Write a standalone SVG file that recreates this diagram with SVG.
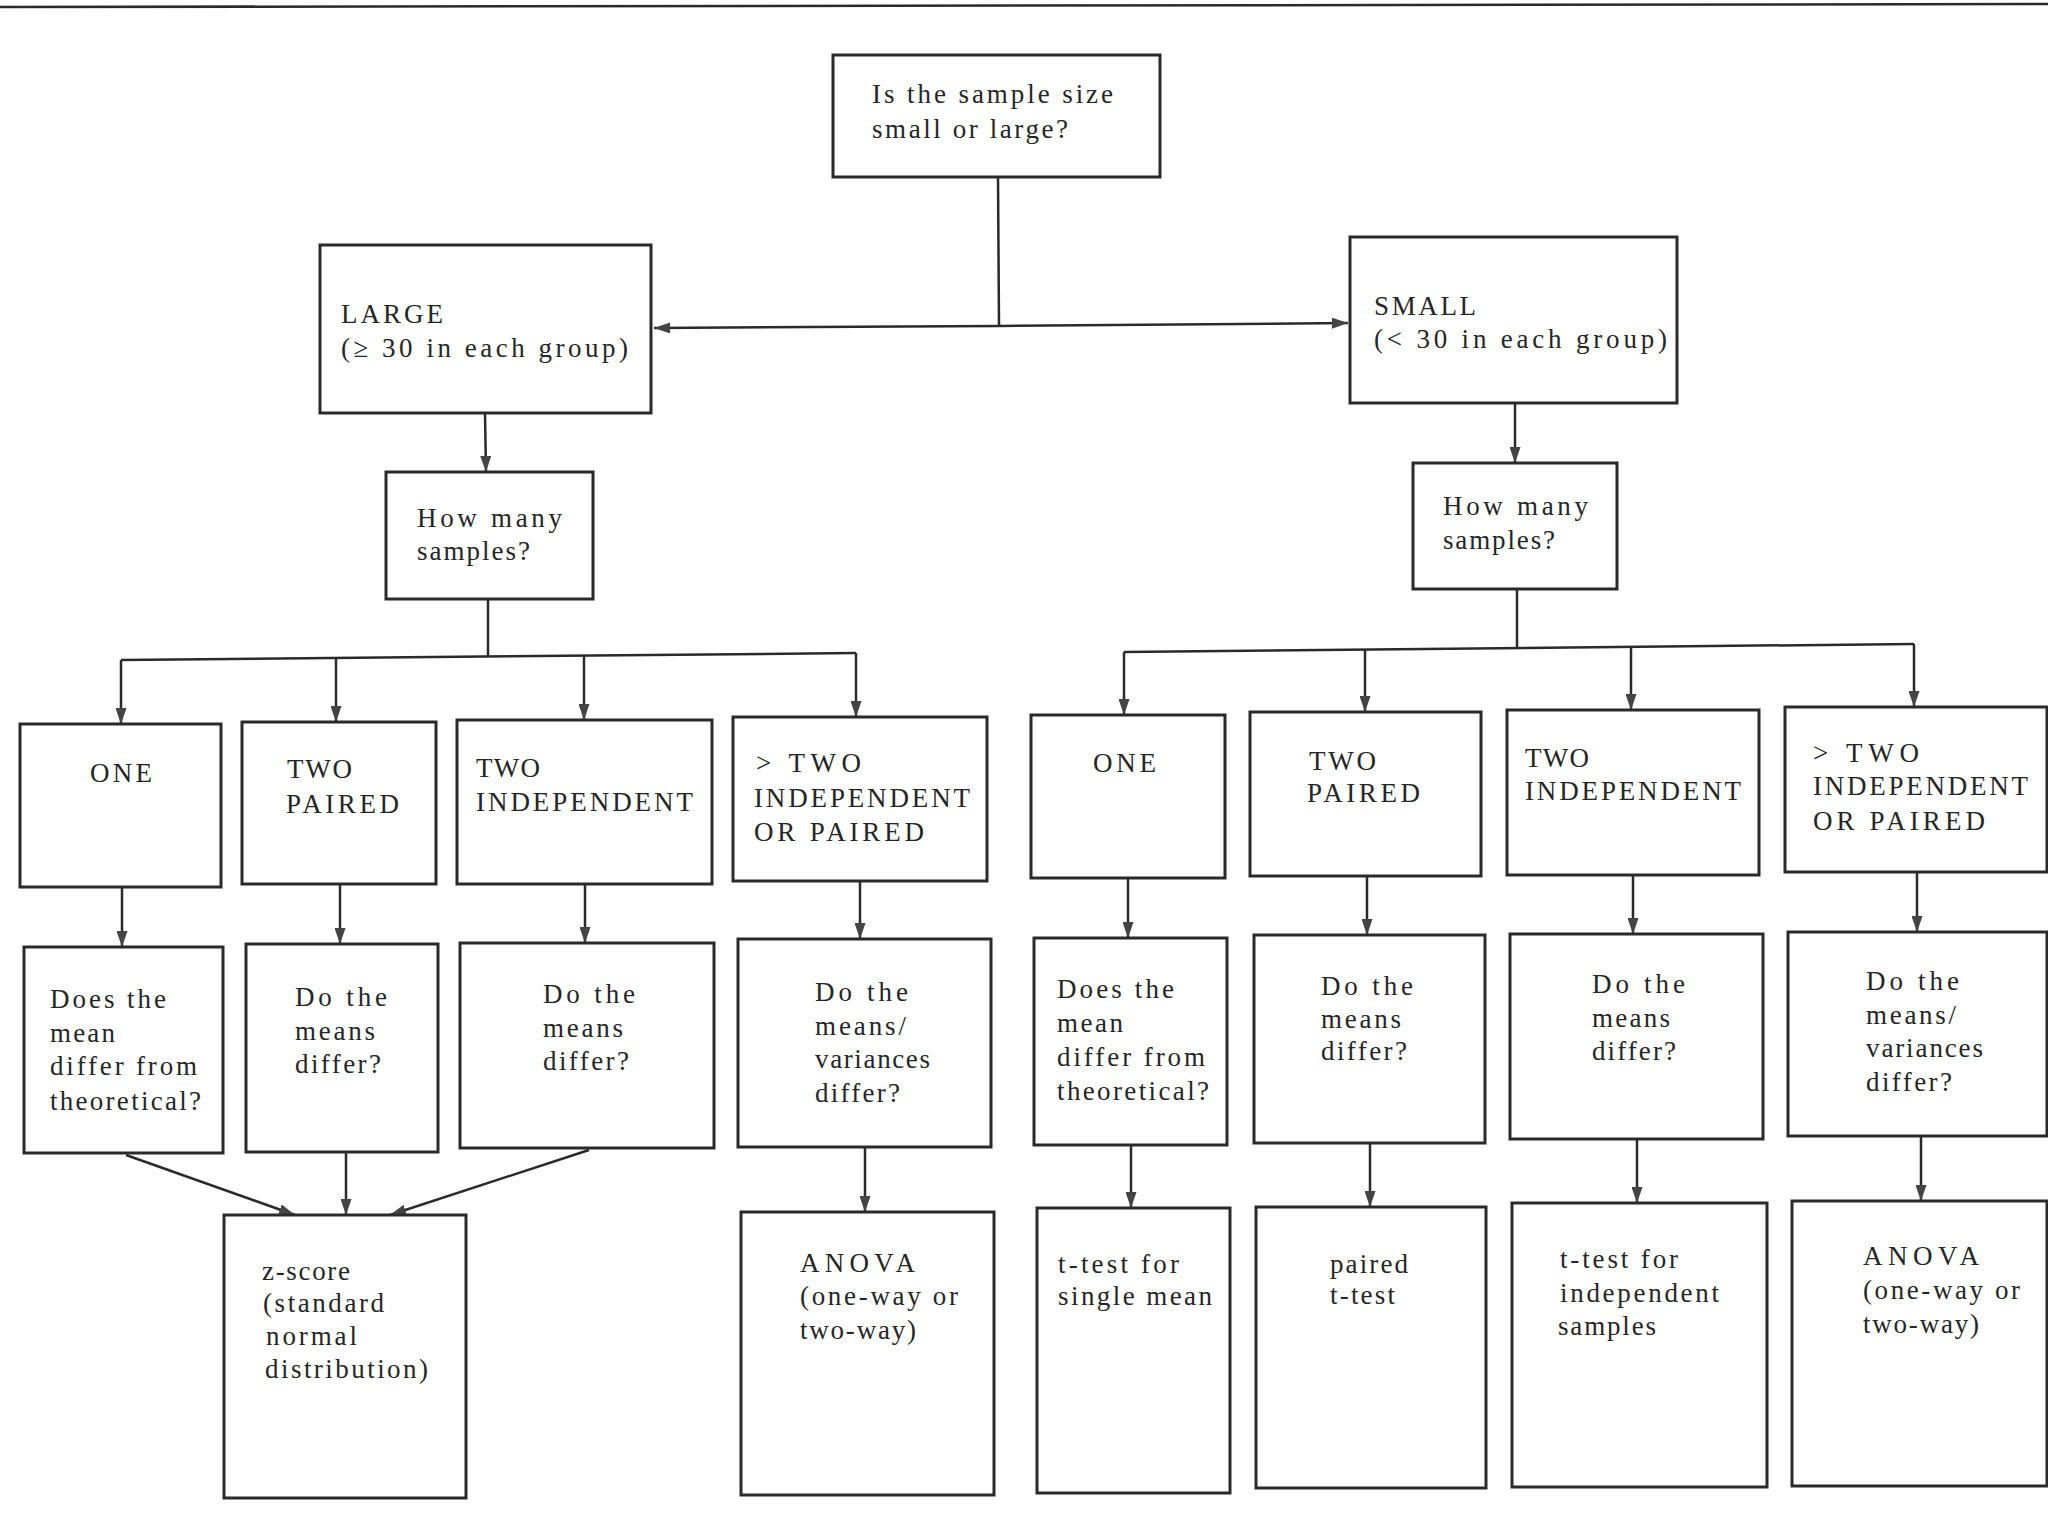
<svg xmlns="http://www.w3.org/2000/svg" width="2048" height="1536" viewBox="0 0 2048 1536">
<style>
.box{fill:#fff;stroke:#2a2a2a;stroke-width:3}
.ln{fill:none;stroke:#2a2a2a;stroke-width:2.5}
.t{font-family:'Liberation Serif','DejaVu Serif',serif;font-size:27px;fill:#262626}
</style>
<defs>
<marker id="ah" viewBox="0 0 16 11" refX="16" refY="5.5" markerWidth="16" markerHeight="11" markerUnits="userSpaceOnUse" orient="auto">
<path d="M0,0 L16,5.5 L0,11 z" fill="#444"/>
</marker>
</defs>
<rect width="2048" height="1536" fill="#fff"/>
<line x1="0" y1="7" x2="2048" y2="4" stroke="#2a2a2a" stroke-width="2.5"/>

<g id="connectors">
<line class="ln" x1="998" y1="177" x2="999" y2="326"/>
<line class="ln" x1="999" y1="326" x2="654" y2="328" marker-end="url(#ah)"/>
<line class="ln" x1="999" y1="326" x2="1348" y2="323" marker-end="url(#ah)"/>
<line class="ln" x1="485" y1="413" x2="486" y2="472" marker-end="url(#ah)"/>
<line class="ln" x1="1515" y1="403" x2="1515" y2="463" marker-end="url(#ah)"/>
<line class="ln" x1="488" y1="599" x2="488" y2="657"/>
<line class="ln" x1="121" y1="660" x2="856" y2="653"/>
<line class="ln" x1="121" y1="660" x2="121" y2="724" marker-end="url(#ah)"/>
<line class="ln" x1="336" y1="658" x2="336" y2="722" marker-end="url(#ah)"/>
<line class="ln" x1="584" y1="656" x2="584" y2="720" marker-end="url(#ah)"/>
<line class="ln" x1="856" y1="653" x2="856" y2="717" marker-end="url(#ah)"/>
<line class="ln" x1="1517" y1="589" x2="1517" y2="648"/>
<line class="ln" x1="1124" y1="652" x2="1914" y2="644"/>
<line class="ln" x1="1124" y1="652" x2="1124" y2="715" marker-end="url(#ah)"/>
<line class="ln" x1="1365" y1="650" x2="1365" y2="712" marker-end="url(#ah)"/>
<line class="ln" x1="1631" y1="647" x2="1631" y2="710" marker-end="url(#ah)"/>
<line class="ln" x1="1914" y1="644" x2="1914" y2="707" marker-end="url(#ah)"/>
<line class="ln" x1="122" y1="887" x2="122" y2="947" marker-end="url(#ah)"/>
<line class="ln" x1="340" y1="884" x2="340" y2="944" marker-end="url(#ah)"/>
<line class="ln" x1="585" y1="884" x2="585" y2="943" marker-end="url(#ah)"/>
<line class="ln" x1="860" y1="881" x2="860" y2="939" marker-end="url(#ah)"/>
<line class="ln" x1="1128" y1="878" x2="1128" y2="938" marker-end="url(#ah)"/>
<line class="ln" x1="1367" y1="876" x2="1367" y2="935" marker-end="url(#ah)"/>
<line class="ln" x1="1633" y1="875" x2="1633" y2="934" marker-end="url(#ah)"/>
<line class="ln" x1="1917" y1="872" x2="1917" y2="932" marker-end="url(#ah)"/>
<line class="ln" x1="126" y1="1155" x2="295" y2="1215" marker-end="url(#ah)"/>
<line class="ln" x1="346" y1="1153" x2="346" y2="1215" marker-end="url(#ah)"/>
<line class="ln" x1="589" y1="1150" x2="390" y2="1215" marker-end="url(#ah)"/>
<line class="ln" x1="865" y1="1147" x2="865" y2="1212" marker-end="url(#ah)"/>
<line class="ln" x1="1131" y1="1145" x2="1131" y2="1208" marker-end="url(#ah)"/>
<line class="ln" x1="1370" y1="1143" x2="1370" y2="1207" marker-end="url(#ah)"/>
<line class="ln" x1="1637" y1="1139" x2="1637" y2="1203" marker-end="url(#ah)"/>
<line class="ln" x1="1921" y1="1136" x2="1921" y2="1201" marker-end="url(#ah)"/>
</g>

<g id="n-top">
<rect class="box" x="833" y="55" width="327" height="122"/>
<text class="t" x="872" y="103" textLength="241">Is the sample size</text>
<text class="t" x="872" y="138" textLength="196">small or large?</text>
</g>
<g id="n-large">
<rect class="box" x="320" y="245" width="331" height="168"/>
<text class="t" x="341" y="323" textLength="102">LARGE</text>
<text class="t" x="341" y="357" textLength="287">(≥ 30 in each group)</text>
</g>
<g id="n-small">
<rect class="box" x="1350" y="237" width="327" height="166"/>
<text class="t" x="1374" y="315" textLength="102">SMALL</text>
<text class="t" x="1374" y="348" textLength="293">(&lt; 30 in each group)</text>
</g>
<g id="n-howmany-l">
<rect class="box" x="386" y="472" width="207" height="127"/>
<text class="t" x="417" y="527" textLength="145">How many</text>
<text class="t" x="417" y="560" textLength="113">samples?</text>
</g>
<g id="n-howmany-r">
<rect class="box" x="1413" y="463" width="204" height="126"/>
<text class="t" x="1443" y="515" textLength="145">How many</text>
<text class="t" x="1443" y="549" textLength="112">samples?</text>
</g>

<g id="n-l-one">
<rect class="box" x="20" y="724" width="201" height="163"/>
<text class="t" x="90" y="782" textLength="62">ONE</text>
</g>
<g id="n-l-twopaired">
<rect class="box" x="242" y="722" width="194" height="162"/>
<text class="t" x="287" y="778" textLength="65">TWO</text>
<text class="t" x="286" y="813" textLength="113">PAIRED</text>
</g>
<g id="n-l-twoindep">
<rect class="box" x="457" y="720" width="255" height="164"/>
<text class="t" x="476" y="777" textLength="64">TWO</text>
<text class="t" x="476" y="811" textLength="217">INDEPENDENT</text>
</g>
<g id="n-l-more">
<rect class="box" x="733" y="717" width="254" height="164"/>
<text class="t" x="756" y="772" textLength="105">&gt; TWO</text>
<text class="t" x="754" y="807" textLength="216">INDEPENDENT</text>
<text class="t" x="754" y="841" textLength="170">OR PAIRED</text>
</g>
<g id="n-r-one">
<rect class="box" x="1031" y="715" width="194" height="163"/>
<text class="t" x="1093" y="772" textLength="63">ONE</text>
</g>
<g id="n-r-twopaired">
<rect class="box" x="1250" y="712" width="231" height="164"/>
<text class="t" x="1309" y="770" textLength="67">TWO</text>
<text class="t" x="1307" y="802" textLength="113">PAIRED</text>
</g>
<g id="n-r-twoindep">
<rect class="box" x="1507" y="710" width="252" height="165"/>
<text class="t" x="1525" y="767" textLength="64">TWO</text>
<text class="t" x="1525" y="800" textLength="216">INDEPENDENT</text>
</g>
<g id="n-r-more">
<rect class="box" x="1785" y="707" width="262" height="165"/>
<text class="t" x="1813" y="762" textLength="106">&gt; TWO</text>
<text class="t" x="1813" y="795" textLength="215">INDEPENDENT</text>
<text class="t" x="1813" y="830" textLength="172">OR PAIRED</text>
</g>

<g id="n-l-q1">
<rect class="box" x="24" y="947" width="199" height="206"/>
<text class="t" x="50" y="1008" textLength="116">Does the</text>
<text class="t" x="50" y="1042" textLength="65">mean</text>
<text class="t" x="50" y="1075" textLength="147">differ from</text>
<text class="t" x="50" y="1110" textLength="151">theoretical?</text>
</g>
<g id="n-l-q2">
<rect class="box" x="246" y="944" width="192" height="208"/>
<text class="t" x="295" y="1006" textLength="92">Do the</text>
<text class="t" x="295" y="1040" textLength="80">means</text>
<text class="t" x="295" y="1073" textLength="86">differ?</text>
</g>
<g id="n-l-q3">
<rect class="box" x="460" y="943" width="254" height="205"/>
<text class="t" x="543" y="1003" textLength="92">Do the</text>
<text class="t" x="543" y="1037" textLength="80">means</text>
<text class="t" x="543" y="1070" textLength="86">differ?</text>
</g>
<g id="n-l-q4">
<rect class="box" x="738" y="939" width="253" height="208"/>
<text class="t" x="815" y="1001" textLength="93">Do the</text>
<text class="t" x="815" y="1035" textLength="91">means/</text>
<text class="t" x="815" y="1068" textLength="115">variances</text>
<text class="t" x="815" y="1102" textLength="85">differ?</text>
</g>
<g id="n-r-q1">
<rect class="box" x="1034" y="938" width="193" height="207"/>
<text class="t" x="1057" y="998" textLength="117">Does the</text>
<text class="t" x="1057" y="1032" textLength="66">mean</text>
<text class="t" x="1057" y="1066" textLength="148">differ from</text>
<text class="t" x="1057" y="1100" textLength="152">theoretical?</text>
</g>
<g id="n-r-q2">
<rect class="box" x="1254" y="935" width="231" height="208"/>
<text class="t" x="1321" y="995" textLength="92">Do the</text>
<text class="t" x="1321" y="1028" textLength="80">means</text>
<text class="t" x="1321" y="1060" textLength="86">differ?</text>
</g>
<g id="n-r-q3">
<rect class="box" x="1510" y="934" width="253" height="205"/>
<text class="t" x="1592" y="993" textLength="93">Do the</text>
<text class="t" x="1592" y="1027" textLength="78">means</text>
<text class="t" x="1592" y="1060" textLength="84">differ?</text>
</g>
<g id="n-r-q4">
<rect class="box" x="1788" y="932" width="259" height="204"/>
<text class="t" x="1866" y="990" textLength="93">Do the</text>
<text class="t" x="1866" y="1024" textLength="90">means/</text>
<text class="t" x="1866" y="1057" textLength="117">variances</text>
<text class="t" x="1866" y="1091" textLength="86">differ?</text>
</g>

<g id="n-zscore">
<rect class="box" x="224" y="1215" width="242" height="283"/>
<text class="t" x="262" y="1280" textLength="88">z-score</text>
<text class="t" x="263" y="1312" textLength="121">(standard</text>
<text class="t" x="266" y="1345" textLength="91">normal</text>
<text class="t" x="265" y="1378" textLength="163">distribution)</text>
</g>
<g id="n-anova-l">
<rect class="box" x="741" y="1212" width="253" height="283"/>
<text class="t" x="800" y="1272" textLength="115">ANOVA</text>
<text class="t" x="800" y="1305" textLength="158">(one-way or</text>
<text class="t" x="800" y="1339" textLength="116">two-way)</text>
</g>
<g id="n-ttest-single">
<rect class="box" x="1037" y="1208" width="193" height="285"/>
<text class="t" x="1058" y="1273" textLength="121">t-test  for</text>
<text class="t" x="1058" y="1305" textLength="154">single mean</text>
</g>
<g id="n-paired">
<rect class="box" x="1256" y="1207" width="230" height="281"/>
<text class="t" x="1330" y="1273" textLength="78">paired</text>
<text class="t" x="1330" y="1304" textLength="65">t-test</text>
</g>
<g id="n-ttest-indep">
<rect class="box" x="1512" y="1203" width="255" height="284"/>
<text class="t" x="1560" y="1268" textLength="118">t-test  for</text>
<text class="t" x="1560" y="1302" textLength="159">independent</text>
<text class="t" x="1558" y="1335" textLength="98">samples</text>
</g>
<g id="n-anova-r">
<rect class="box" x="1792" y="1201" width="255" height="285"/>
<text class="t" x="1863" y="1265" textLength="116">ANOVA</text>
<text class="t" x="1863" y="1299" textLength="157">(one-way or</text>
<text class="t" x="1863" y="1333" textLength="116">two-way)</text>
</g>
</svg>
